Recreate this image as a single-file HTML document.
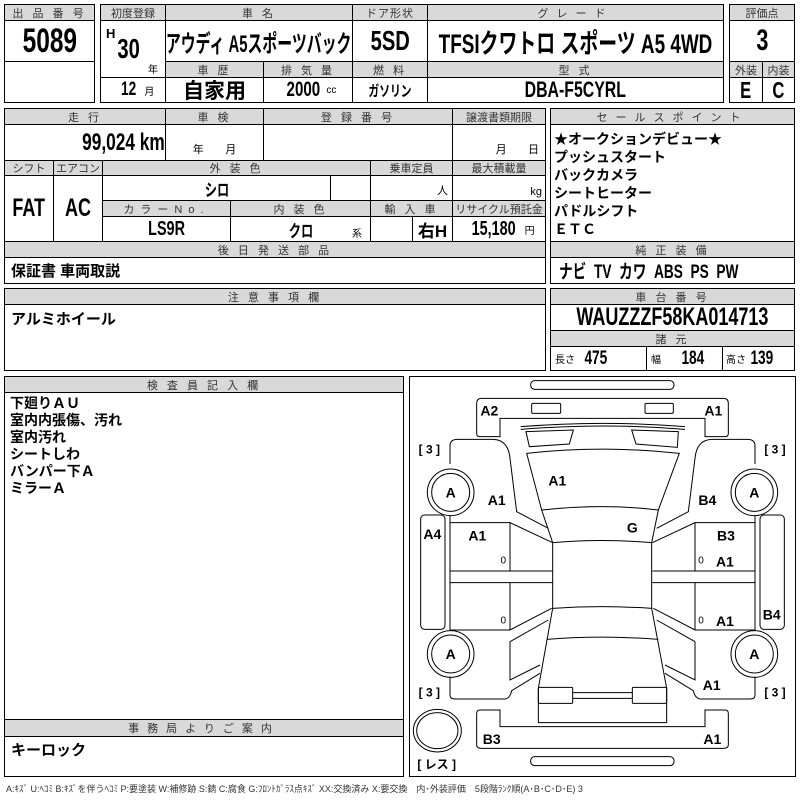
<!DOCTYPE html>
<html><head><meta charset="utf-8">
<style>
*{margin:0;padding:0;box-sizing:border-box}
body{width:800px;height:800px;background:#fff;position:relative;overflow:hidden;font-family:"Liberation Sans","Noto Sans CJK JP",sans-serif;color:#000}
.c{position:absolute;border:1px solid #000;display:flex;align-items:center;justify-content:center;white-space:nowrap;overflow:hidden}
.h{background:#d9d9d9;font-size:11px;color:#333;letter-spacing:3px}
.v{font-family:"Liberation Sans","Noto Sans CJK JP",sans-serif;font-weight:bold}
.j{font-family:"Liberation Sans","Noto Sans CJK JP",sans-serif;font-weight:bold}
.s{font-size:10px;font-weight:normal}
.n{display:inline-block;transform:scaleX(.72);white-space:nowrap}
</style></head><body>

<div class="c h" style="left:4px;top:4px;width:91px;height:17px">出 品 番 号</div>
<div class="c v" style="left:4px;top:20px;width:91px;height:42px;font-size:34px"><span class="n">5089</span></div>
<div class="c" style="left:4px;top:61px;width:91px;height:42px"></div>

<div class="c h" style="left:100px;top:4px;width:66px;height:17px;letter-spacing:0">初度登録</div>
<div class="c h" style="left:165px;top:4px;width:188px;height:17px">車 名</div>
<div class="c h" style="left:352px;top:4px;width:76px;height:17px;letter-spacing:1px">ドア形状</div>
<div class="c h" style="left:427px;top:4px;width:297px;height:17px;letter-spacing:8px">グレード</div>
<div class="c h" style="left:729px;top:4px;width:66px;height:17px;letter-spacing:0">評価点</div>

<div class="c" style="left:100px;top:20px;width:66px;height:58px"></div>
<div class="v" style="position:absolute;left:106px;top:26px;font-size:13px">H</div>
<div class="v" style="position:absolute;left:113px;top:33px;font-size:28px"><span class="n">30</span></div>
<div style="position:absolute;left:148px;top:61px;font-size:10px">年</div>
<div class="c j" style="left:165px;top:20px;width:188px;height:42px;font-size:24px"><span class="n" style="transform:scaleX(.62)">アウディ A5スポーツバック</span></div>
<div class="c v" style="left:352px;top:20px;width:76px;height:42px;font-size:28px"><span class="n">5SD</span></div>
<div class="c j" style="left:427px;top:20px;width:297px;height:42px;font-size:27px"><span class="n" style="transform:scaleX(.7)">TFSIクワトロ スポーツ A5 4WD</span></div>
<div class="c v" style="left:729px;top:20px;width:66px;height:42px;font-size:30px"><span class="n">3</span></div>

<div class="c h" style="left:165px;top:61px;width:99px;height:17px">車 歴</div>
<div class="c h" style="left:263px;top:61px;width:90px;height:17px">排 気 量</div>
<div class="c h" style="left:352px;top:61px;width:76px;height:17px">燃 料</div>
<div class="c h" style="left:427px;top:61px;width:297px;height:17px">型 式</div>
<div class="c h" style="left:729px;top:61px;width:34px;height:17px;letter-spacing:0">外装</div>
<div class="c h" style="left:762px;top:61px;width:33px;height:17px;letter-spacing:0">内装</div>

<div class="c" style="left:100px;top:77px;width:66px;height:26px"></div>
<div class="v" style="position:absolute;left:118px;top:79px;font-size:19px"><span class="n">12</span> <span class="s">月</span></div>
<div class="c j" style="left:165px;top:77px;width:99px;height:26px;font-size:21px">自家用</div>
<div class="c v" style="left:263px;top:77px;width:90px;height:26px;font-size:21px"><span class="n">2000</span><span class="s">cc</span></div>
<div class="c j" style="left:352px;top:77px;width:76px;height:26px;font-size:15px"><span class="n">ガソリン</span></div>
<div class="c v" style="left:427px;top:77px;width:297px;height:26px;font-size:22px"><span class="n">DBA-F5CYRL</span></div>
<div class="c v" style="left:729px;top:77px;width:34px;height:26px;font-size:23px"><span class="n">E</span></div>
<div class="c v" style="left:762px;top:77px;width:33px;height:26px;font-size:23px"><span class="n">C</span></div>

<div class="c h" style="left:4px;top:108px;width:162px;height:17px">走 行</div>
<div class="c h" style="left:165px;top:108px;width:99px;height:17px">車 検</div>
<div class="c h" style="left:263px;top:108px;width:190px;height:17px">登 録 番 号</div>
<div class="c h" style="left:452px;top:108px;width:94px;height:17px;letter-spacing:0">譲渡書類期限</div>
<div class="c v" style="left:4px;top:124px;width:162px;height:37px;justify-content:flex-end;padding-right:0;font-size:24px"><span class="n" style="transform-origin:right center">99,024 km</span></div>
<div class="c" style="left:165px;top:124px;width:99px;height:37px;align-items:flex-end;font-size:11px;padding-bottom:3px">年&nbsp;&nbsp;&nbsp;&nbsp;&nbsp;&nbsp;&nbsp;月</div>
<div class="c" style="left:263px;top:124px;width:190px;height:37px"></div>
<div class="c" style="left:452px;top:124px;width:94px;height:37px;align-items:flex-end;font-size:11px;padding-bottom:3px;justify-content:flex-end;padding-right:6px">月&nbsp;&nbsp;&nbsp;&nbsp;&nbsp;&nbsp;&nbsp;日</div>

<div class="c h" style="left:4px;top:160px;width:50px;height:16px;letter-spacing:0">シフト</div>
<div class="c h" style="left:53px;top:160px;width:50px;height:16px;letter-spacing:0">エアコン</div>
<div class="c h" style="left:102px;top:160px;width:269px;height:16px">外 装 色</div>
<div class="c h" style="left:370px;top:160px;width:83px;height:16px;letter-spacing:0">乗車定員</div>
<div class="c h" style="left:452px;top:160px;width:94px;height:16px;letter-spacing:0">最大積載量</div>
<div class="c v" style="left:4px;top:175px;width:50px;height:67px;font-size:25px"><span class="n">FAT</span></div>
<div class="c v" style="left:53px;top:175px;width:50px;height:67px;font-size:25px"><span class="n">AC</span></div>
<div class="c j" style="left:102px;top:175px;width:229px;height:26px;font-size:17px"><span class="n">シロ</span></div>
<div class="c" style="left:330px;top:175px;width:41px;height:26px"></div>
<div class="c" style="left:370px;top:175px;width:83px;height:26px;justify-content:flex-end;align-items:flex-end;font-size:11px;padding:0 4px 2px 0">人</div>
<div class="c" style="left:452px;top:175px;width:94px;height:26px;justify-content:flex-end;align-items:flex-end;font-size:11px;padding:0 3px 2px 0">kg</div>
<div class="c h" style="left:102px;top:200px;width:129px;height:17px;letter-spacing:6px">カラーNo.</div>
<div class="c h" style="left:230px;top:200px;width:141px;height:17px">内 装 色</div>
<div class="c h" style="left:370px;top:200px;width:83px;height:17px">輸 入 車</div>
<div class="c h" style="left:452px;top:200px;width:94px;height:17px;letter-spacing:0">リサイクル預託金</div>
<div class="c v" style="left:102px;top:216px;width:129px;height:26px;font-size:20px"><span class="n">LS9R</span></div>
<div class="c j" style="left:230px;top:216px;width:141px;height:26px;font-size:17px"><span class="n">クロ</span></div>
<div style="position:absolute;left:352px;top:225px;font-size:10px">系</div>
<div class="c" style="left:370px;top:216px;width:43px;height:26px"></div>
<div class="c j" style="left:412px;top:216px;width:41px;height:26px;font-size:17px">右H</div>
<div class="c v" style="left:452px;top:216px;width:94px;height:26px;font-size:20px"><span class="n">15,180</span><span class="s">円</span></div>
<div class="c h" style="left:4px;top:241px;width:542px;height:17px">後 日 発 送 部 品</div>
<div class="c j" style="left:4px;top:257px;width:542px;height:27px;justify-content:flex-start;padding-left:6px;font-size:15px">保証書 車両取説</div>

<div class="c h" style="left:550px;top:108px;width:245px;height:17px;letter-spacing:8px">セールスポイント</div>
<div class="c j" style="left:550px;top:124px;width:245px;height:118px;display:block;font-size:14px;line-height:18px;padding:5px 0 0 3px;white-space:pre">★オークションデビュー★
プッシュスタート
バックカメラ
シートヒーター
パドルシフト
ＥＴＣ</div>
<div class="c h" style="left:550px;top:241px;width:245px;height:17px">純 正 装 備</div>
<div class="c v" style="left:550px;top:257px;width:245px;height:27px;justify-content:flex-start;padding-left:8px;font-size:19px"><span class="n" style="transform-origin:left center">ナビ&nbsp; TV&nbsp; カワ&nbsp; ABS&nbsp; PS&nbsp; PW</span></div>

<div class="c h" style="left:4px;top:288px;width:542px;height:17px">注 意 事 項 欄</div>
<div class="c j" style="left:4px;top:304px;width:542px;height:67px;align-items:flex-start;justify-content:flex-start;padding:3px 0 0 6px;font-size:15px">アルミホイール</div>
<div class="c h" style="left:550px;top:288px;width:245px;height:17px">車 台 番 号</div>
<div class="c v" style="left:550px;top:304px;width:245px;height:27px;font-size:25px"><span class="n">WAUZZZF58KA014713</span></div>
<div class="c h" style="left:550px;top:330px;width:245px;height:17px">諸 元</div>
<div class="c v" style="left:550px;top:346px;width:97px;height:25px;font-size:19px;justify-content:flex-start;padding-left:4px"><span class="s">長さ</span>&nbsp;<span class="n">475</span></div>
<div class="c v" style="left:646px;top:346px;width:77px;height:25px;font-size:19px;justify-content:flex-start;padding-left:4px"><span class="s">幅</span>&nbsp;&nbsp;&nbsp;<span class="n">184</span></div>
<div class="c v" style="left:722px;top:346px;width:73px;height:25px;font-size:19px;justify-content:flex-start;padding-left:3px"><span class="s">高さ</span><span class="n">139</span></div>

<div class="c h" style="left:4px;top:376px;width:400px;height:17px">検 査 員 記 入 欄</div>
<div class="c j" style="left:4px;top:392px;width:400px;height:328px;display:block;font-size:14px;line-height:17px;padding:2px 0 0 5px;white-space:pre">下廻りＡＵ
室内内張傷、汚れ
室内汚れ
シートしわ
バンパー下Ａ
ミラーＡ</div>
<div class="c h" style="left:4px;top:719px;width:400px;height:18px;letter-spacing:8px">事務局よりご案内</div>
<div class="c j" style="left:4px;top:736px;width:400px;height:41px;align-items:flex-start;justify-content:flex-start;padding:2px 0 0 6px;font-size:15px">キーロック</div>

<div class="c" style="left:409px;top:376px;width:387px;height:401px"></div>
<svg style="position:absolute;left:400px;top:370px" width="400" height="430" viewBox="0 0 1200 1290">
<g fill="none" stroke="#000" stroke-width="3">
<rect x="392" y="32" width="430" height="26" rx="12"/>
<rect x="392" y="1160" width="430" height="27" rx="12"/>
<rect x="395" y="100" width="87" height="30" rx="4"/>
<rect x="735" y="100" width="85" height="30" rx="4"/>
<path d="M230,190 V100 Q230,85 245,85 H970 Q985,85 985,100 V190 Q985,200 975,200 H915 V145 H300 V200 H240 Q230,200 230,190 Z"/>
<path d="M230,1030 V1125 Q230,1135 245,1135 H970 Q985,1135 985,1125 V1030 Q985,1020 975,1020 H915 V1070 H300 V1020 H240 Q230,1020 230,1030 Z"/>
<path d="M362,170 Q610,150 855,170 M362,178 Q610,158 855,178"/>
<path d="M378,185 L520,180 L508,222 L388,230 Z M695,180 L835,185 L832,232 L708,222 Z"/>
<path d="M380,250 Q610,225 838,250 L775,420 Q610,400 425,420 Z"/>
<path d="M425,420 L458,518 Q607,505 755,518 L775,420"/>
<path d="M458,518 V715 Q607,705 755,715 V518"/>
<path d="M458,715 L415,955 M755,715 L800,955 M440,808 Q607,795 775,808"/>
<path d="M415,955 V1058 H800 V955"/>
<rect x="415" y="952" width="103" height="48" rx="3"/>
<rect x="697" y="952" width="103" height="48" rx="3"/>
<path d="M518,968 H697 M518,985 H697"/>
<g id="L">
<path d="M150,282 V228 Q150,208 172,208 H280 Q325,210 330,265 L350,425 L445,475"/>
<path d="M150,438 V780 H330 L455,715 M150,458 H330 L458,518 M330,458 V603 M330,638 V780 M150,603 H458 M150,638 H458"/>
<path d="M330,815 L445,750 M330,815 V930 L420,885"/>
<path d="M150,920 V975 Q150,987 165,987 H315 Q330,985 335,962 L420,910"/>
<circle cx="152" cy="367" r="70"/><circle cx="152" cy="367" r="57"/>
<circle cx="152" cy="852" r="70"/><circle cx="152" cy="852" r="57"/>
<rect x="62" y="435" width="73" height="343" rx="12"/>
</g>
<use href="#L" transform="translate(1215,0) scale(-1,1)"/>
<ellipse cx="112" cy="1082" rx="72" ry="64"/><ellipse cx="112" cy="1082" rx="62" ry="54"/>
</g>
<g font-family="Liberation Sans,Noto Sans CJK JP,sans-serif" font-weight="bold" font-size="42" text-anchor="middle" fill="#000">
<text x="268" y="137">A2</text><text x="940" y="137">A1</text>
<text x="152" y="382">A</text><text x="1063" y="382">A</text>
<text x="152" y="867">A</text><text x="1063" y="867">A</text>
<text x="290" y="405">A1</text><text x="472" y="347">A1</text><text x="922" y="405">B4</text>
<text x="97" y="507">A4</text><text x="232" y="512">A1</text><text x="697" y="487">G</text>
<text x="978" y="512">B3</text><text x="975" y="590">A1</text><text x="975" y="768">A1</text>
<text x="1115" y="748">B4</text><text x="935" y="960">A1</text>
<text x="275" y="1122">B3</text><text x="937" y="1122">A1</text>
</g>
<g font-family="Liberation Sans,Noto Sans CJK JP,sans-serif" font-size="36" text-anchor="middle" fill="#000">
<text x="310" y="580" font-size="30">0</text><text x="903" y="580" font-size="30">0</text>
<text x="310" y="760" font-size="30">0</text><text x="903" y="760" font-size="30">0</text>
<text x="88" y="250" font-weight="bold" xml:space="preserve">[ 3 ]</text>
<text x="1125" y="250" font-weight="bold" xml:space="preserve">[ 3 ]</text>
<text x="88" y="980" font-weight="bold" xml:space="preserve">[ 3 ]</text>
<text x="1125" y="980" font-weight="bold" xml:space="preserve">[ 3 ]</text>
<text x="110" y="1195" font-weight="bold">[ レス ]</text>
</g>
</svg>
<div style="position:absolute;left:6px;top:782px;font-size:9px;color:#333;white-space:nowrap;letter-spacing:0">A:ｷｽﾞ U:ﾍｺﾐ B:ｷｽﾞを伴うﾍｺﾐ P:要塗装 W:補修跡 S:錆 C:腐食 G:ﾌﾛﾝﾄｶﾞﾗｽ点ｷｽﾞ XX:交換済み X:要交換　内･外装評価　5段階ﾗﾝｸ順(A･B･C･D･E) 3</div>
</body></html>
